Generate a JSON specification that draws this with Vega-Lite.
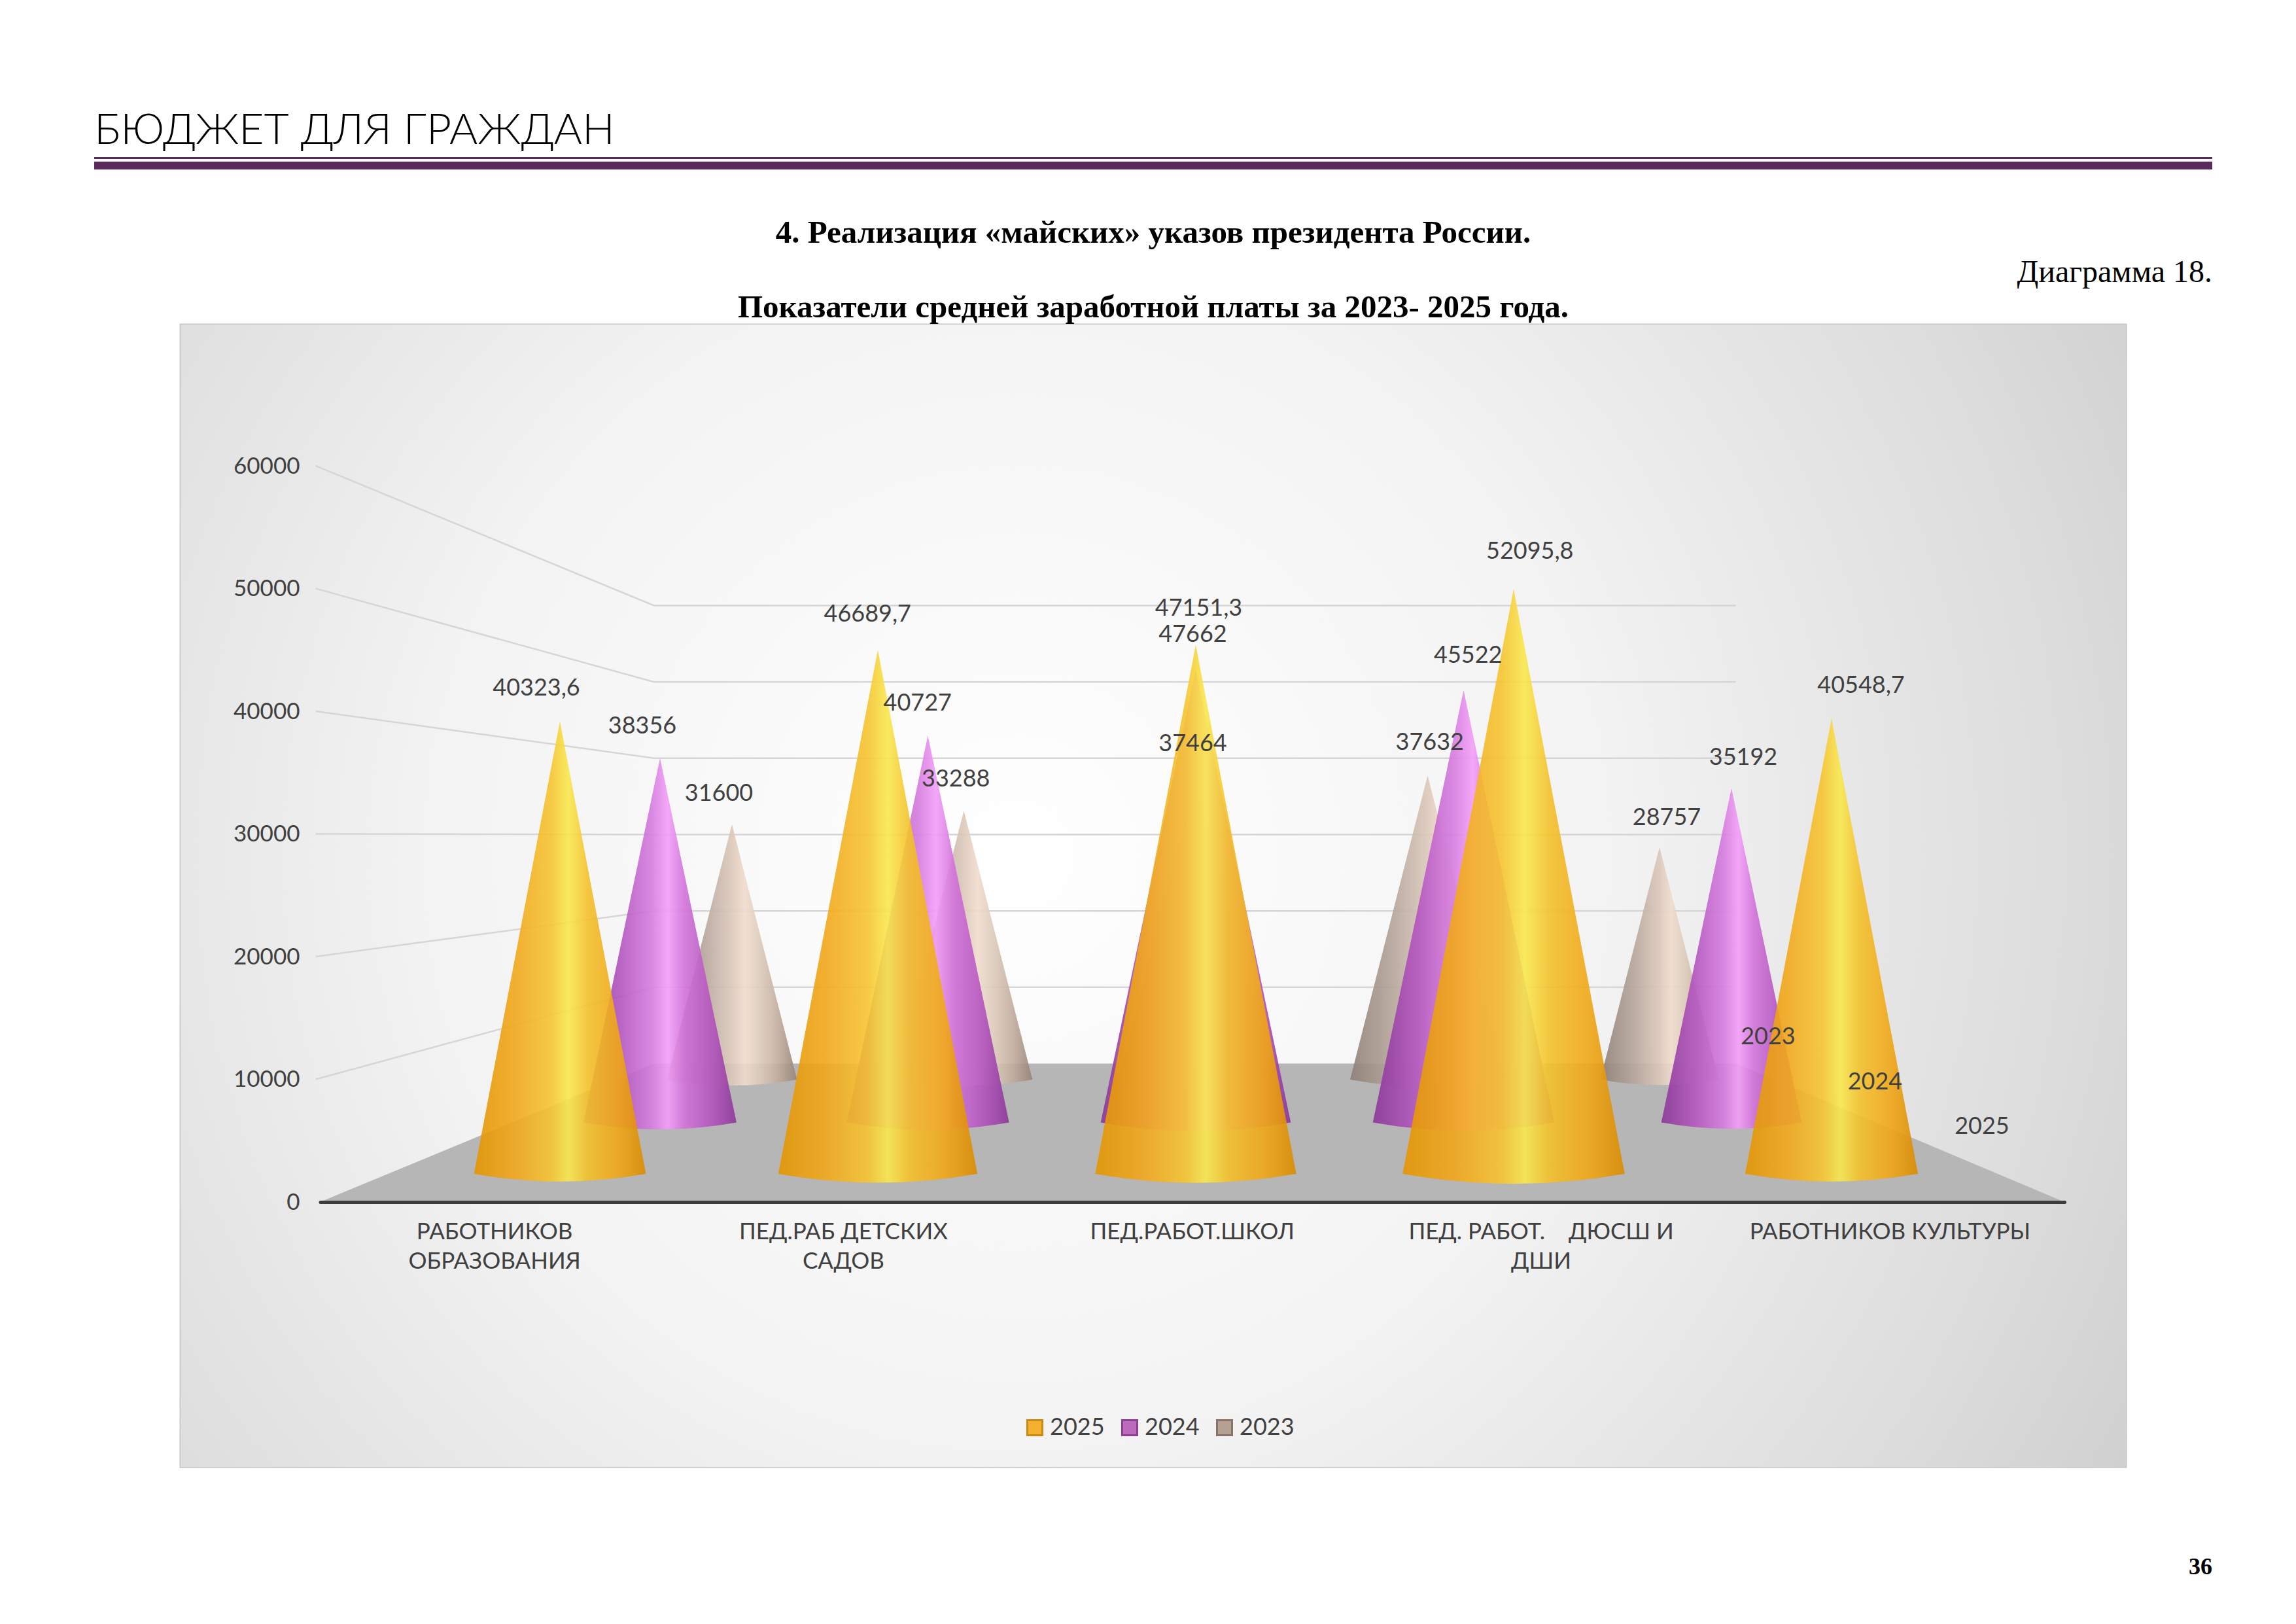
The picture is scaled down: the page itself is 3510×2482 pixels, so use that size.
{
  "$schema": "https://vega.github.io/schema/vega-lite/v6.json",
  "padding": {"left": 144, "top": 166, "right": 128, "bottom": 40},
  "background": "#ffffff",
  "config": {
    "view": {"stroke": null},
    "locale": {"number": {"decimal": ",", "thousands": " ", "grouping": [3], "currency": ["", ""]}},
    "title": {"font": "Liberation Serif", "fontSize": 49, "fontWeight": "bold", "color": "#000000", "baseline": "top"},
    "text": {"font": "Lato", "fontSize": 36, "color": "#404040"}
  },
  "data": {
    "values": [
      {"category": "РАБОТНИКОВ ОБРАЗОВАНИЯ", "year": "2025", "value": 40323.6},
      {"category": "РАБОТНИКОВ ОБРАЗОВАНИЯ", "year": "2024", "value": 38356},
      {"category": "РАБОТНИКОВ ОБРАЗОВАНИЯ", "year": "2023", "value": 31600},
      {"category": "ПЕД.РАБ ДЕТСКИХ САДОВ", "year": "2025", "value": 46689.7},
      {"category": "ПЕД.РАБ ДЕТСКИХ САДОВ", "year": "2024", "value": 40727},
      {"category": "ПЕД.РАБ ДЕТСКИХ САДОВ", "year": "2023", "value": 33288},
      {"category": "ПЕД.РАБОТ.ШКОЛ", "year": "2025", "value": 47151.3},
      {"category": "ПЕД.РАБОТ.ШКОЛ", "year": "2024", "value": 47662},
      {"category": "ПЕД.РАБОТ.ШКОЛ", "year": "2023", "value": 37464},
      {"category": "ПЕД. РАБОТ. ДЮСШ И ДШИ", "year": "2025", "value": 52095.8},
      {"category": "ПЕД. РАБОТ. ДЮСШ И ДШИ", "year": "2024", "value": 45522},
      {"category": "ПЕД. РАБОТ. ДЮСШ И ДШИ", "year": "2023", "value": 37632},
      {"category": "РАБОТНИКОВ КУЛЬТУРЫ", "year": "2025", "value": 40548.7},
      {"category": "РАБОТНИКОВ КУЛЬТУРЫ", "year": "2024", "value": 35192},
      {"category": "РАБОТНИКОВ КУЛЬТУРЫ", "year": "2023", "value": 28757}
    ]
  },
  "spacing": 4,
  "center": true,
  "bounds": "flush",
  "vconcat": [
    {
      "width": 3238, "height": 3,
      "view": {"fill": "#5b2b5c", "stroke": null},
      "title": {"text": "БЮДЖЕТ ДЛЯ ГРАЖДАН", "anchor": "start", "font": "Lato", "fontWeight": 300, "fontSize": 66, "offset": -10},
      "mark": {"type": "text", "text": ""},
      "encoding": {}
    },
    {
      "width": 3238, "height": 12,
      "view": {"fill": "#5a2a5a", "stroke": null},
      "title": {"text": "4. Реализация «майских» указов президента России.", "orient": "bottom", "offset": 61},
      "mark": {"type": "text", "text": ""},
      "encoding": {}
    },
    {
      "width": 3238, "height": 120,
      "view": {"stroke": null},
      "title": {"text": "Диаграмма 18.", "orient": "bottom", "anchor": "end", "fontWeight": "normal", "fontSize": 48, "offset": 10},
      "mark": {"type": "text", "text": ""},
      "encoding": {}
    },
    {
      "width": 3238, "height": 105,
      "view": {"stroke": null},
      "mark": {"type": "text", "text": ""},
      "encoding": {}
    },
    {
      "width": 2974, "height": 1746,
      "view": {"stroke": "#c6c6c6", "strokeWidth": 3},
      "title": {"text": "Показатели средней заработной платы за 2023- 2025 года.", "offset": 1},
      "layer": [
        {
          "transform": [{"aggregate": [{"op": "count", "as": "n"}]}],
          "mark": {
            "type": "rect",
            "fill": {
              "gradient": "radial", "x1": 0.43, "y1": 0.48, "r1": 0, "x2": 0.43, "y2": 0.48, "r2": 0.76,
              "stops": [
                {"offset": 0, "color": "#ffffff"},
                {"offset": 0.4, "color": "#f3f3f3"},
                {"offset": 0.72, "color": "#dcdcdc"},
                {"offset": 1, "color": "#c3c3c3"}
              ]
            }
          },
          "encoding": {}
        },
        {
          "transform": [{"aggregate": [{"op": "count", "as": "n"}]}],
          "encoding": {
            "x": {
              "datum": "ПЕД.РАБОТ.ШКОЛ", "type": "nominal",
              "scale": {"type": "band", "domain": ["РАБОТНИКОВ ОБРАЗОВАНИЯ", "ПЕД.РАБ ДЕТСКИХ САДОВ", "ПЕД.РАБОТ.ШКОЛ", "ПЕД. РАБОТ. ДЮСШ И ДШИ", "РАБОТНИКОВ КУЛЬТУРЫ"], "range": [213.5, 2880], "paddingInner": 0, "paddingOuter": 0},
              "axis": {
                "orient": "bottom", "offset": -405, "zindex": 1, "title": null, "ticks": false, "grid": false,
                "domain": true, "domainColor": "#3c3c3c", "domainWidth": 5, "domainCap": "round",
                "labelFont": "Lato", "labelFontSize": 35, "labelColor": "#404040", "labelPadding": 28,
                "labelBaseline": "top", "labelLineHeight": 45, "labelAngle": 0, "labelLimit": 0,
                "labelExpr": "{'РАБОТНИКОВ ОБРАЗОВАНИЯ': ['РАБОТНИКОВ', 'ОБРАЗОВАНИЯ'], 'ПЕД.РАБ ДЕТСКИХ САДОВ': ['ПЕД.РАБ ДЕТСКИХ', 'САДОВ'], 'ПЕД. РАБОТ. ДЮСШ И ДШИ': ['ПЕД. РАБОТ.\u00a0\u00a0\u00a0\u00a0ДЮСШ И', 'ДШИ']}[datum.label] || datum.label"
              }
            },
            "y": {
              "datum": 0, "type": "quantitative",
              "scale": {"domain": [0, 60000], "range": [1341, 216]},
              "axis": {
                "orient": "left", "offset": -190, "zindex": 1, "title": null, "ticks": false, "domain": false, "grid": false,
                "values": [0, 10000, 20000, 30000, 40000, 50000, 60000], "format": "d",
                "labelFont": "Lato", "labelFontSize": 35, "labelColor": "#404040", "labelPadding": 8
              }
            }
          },
          "layer": [
            {
              "mark": {
                "type": "point", "size": 4, "filled": false, "opacity": 1, "stroke": "#d6d6d6", "strokeWidth": 2.5,
                "shape": "M-1340,-187.5L-823,-328.2L831,-328.2M-1340,-375L-823,-444.8L831,-444.8M-1340,-562.5L-823,-561.5L831,-561.5M-1340,-750L-823,-678.2L831,-678.2M-1340,-937.5L-823,-794.8L831,-794.8M-1340,-1125L-823,-911.5L831,-911.5"
              }
            },
            {
              "mark": {
                "type": "point", "size": 4, "filled": true, "opacity": 1, "fill": "#b6b6b6", "strokeWidth": 0,
                "shape": "M-1333.25,0L1333.25,0L831.25,-211.5L-822.75,-211.5Z"
              }
            }
          ]
        },
        {
          "transform": [{"filter": {"field": "year", "equal": "2023"}}],
          "mark": {
            "type": "point", "filled": true, "opacity": 1, "fillOpacity": 0.9, "strokeWidth": 0,
            "shape": "M0,-1L-0.255,0Q0,0.046,0.255,0Z",
            "fill": {
              "gradient": "linear", "x1": 0, "y1": 0, "x2": 1, "y2": 0,
              "stops": [
                {"offset": 0, "color": "#8e7e76"},
                {"offset": 0.3, "color": "#b9a89d"},
                {"offset": 0.5, "color": "#dcc8ba"},
                {"offset": 0.6, "color": "#efdccd"},
                {"offset": 0.72, "color": "#dccab9"},
                {"offset": 0.87, "color": "#bfa99a"},
                {"offset": 1, "color": "#958277"}
              ]
            }
          },
          "encoding": {
            "x": {"field": "category", "type": "nominal", "scale": {"type": "point", "domain": ["РАБОТНИКОВ ОБРАЗОВАНИЯ", "ПЕД.РАБ ДЕТСКИХ САДОВ", "ПЕД.РАБОТ.ШКОЛ", "ПЕД. РАБОТ. ДЮСШ И ДШИ", "РАБОТНИКОВ КУЛЬТУРЫ"], "range": [843, 2261], "padding": 0}, "axis": null},
            "y": {"datum": 0, "type": "quantitative", "scale": {"domain": [0, 60000], "range": [1154, 413]}, "axis": null},
            "size": {"field": "value", "type": "quantitative", "scale": {"type": "pow", "exponent": 2, "domain": [0, 60000], "range": [0, 2196324]}, "legend": null}
          }
        },
        {
          "transform": [{"filter": {"field": "year", "equal": "2024"}}],
          "mark": {
            "type": "point", "filled": true, "opacity": 1, "fillOpacity": 0.9, "strokeWidth": 0,
            "shape": "M0,-1L-0.21,0Q0,0.038,0.21,0Z",
            "fill": {
              "gradient": "linear", "x1": 0, "y1": 0, "x2": 1, "y2": 0,
              "stops": [
                {"offset": 0, "color": "#8a3696"},
                {"offset": 0.25, "color": "#b557c1"},
                {"offset": 0.45, "color": "#d77ee0"},
                {"offset": 0.55, "color": "#f39ef8"},
                {"offset": 0.66, "color": "#d272da"},
                {"offset": 0.85, "color": "#b052bb"},
                {"offset": 1, "color": "#8a3696"}
              ]
            }
          },
          "encoding": {
            "x": {"field": "category", "type": "nominal", "scale": {"type": "point", "domain": ["РАБОТНИКОВ ОБРАЗОВАНИЯ", "ПЕД.РАБ ДЕТСКИХ САДОВ", "ПЕД.РАБОТ.ШКОЛ", "ПЕД. РАБОТ. ДЮСШ И ДШИ", "РАБОТНИКОВ КУЛЬТУРЫ"], "range": [733, 2371], "padding": 0}, "axis": null},
            "y": {"datum": 0, "type": "quantitative", "scale": {"domain": [0, 60000], "range": [1219.5, 348.5]}, "axis": null},
            "size": {"field": "value", "type": "quantitative", "scale": {"type": "pow", "exponent": 2, "domain": [0, 60000], "range": [0, 3034564]}, "legend": null}
          }
        },
        {
          "transform": [{"filter": {"field": "year", "equal": "2025"}}],
          "mark": {
            "type": "point", "filled": true, "opacity": 1, "fillOpacity": 0.9, "strokeWidth": 0,
            "shape": "M0,-1L-0.19,0Q0,0.034,0.19,0Z",
            "fill": {
              "gradient": "linear", "x1": 0, "y1": 0, "x2": 1, "y2": 0,
              "stops": [
                {"offset": 0, "color": "#e39500"},
                {"offset": 0.25, "color": "#f2a91e"},
                {"offset": 0.45, "color": "#f6c531"},
                {"offset": 0.55, "color": "#f8e84e"},
                {"offset": 0.66, "color": "#f4c12c"},
                {"offset": 0.85, "color": "#efa516"},
                {"offset": 1, "color": "#d98b00"}
              ]
            }
          },
          "encoding": {
            "x": {"field": "category", "type": "nominal", "scale": {"type": "point", "domain": ["РАБОТНИКОВ ОБРАЗОВАНИЯ", "ПЕД.РАБ ДЕТСКИХ САДОВ", "ПЕД.РАБОТ.ШКОЛ", "ПЕД. РАБОТ. ДЮСШ И ДШИ", "РАБОТНИКОВ КУЛЬТУРЫ"], "range": [580, 2524], "padding": 0}, "axis": null},
            "y": {"datum": 0, "type": "quantitative", "scale": {"domain": [0, 60000], "range": [1298, 269]}, "axis": null},
            "size": {"field": "value", "type": "quantitative", "scale": {"type": "pow", "exponent": 2, "domain": [0, 60000], "range": [0, 4235364]}, "legend": null}
          }
        },
        {
          "transform": [{"filter": {"field": "year", "equal": "2023"}}],
          "mark": {"type": "text", "align": "center", "baseline": "middle"},
          "encoding": {
            "x": {"field": "category", "type": "nominal", "scale": {"type": "point", "domain": ["РАБОТНИКОВ ОБРАЗОВАНИЯ", "ПЕД.РАБ ДЕТСКИХ САДОВ", "ПЕД.РАБОТ.ШКОЛ", "ПЕД. РАБОТ. ДЮСШ И ДШИ", "РАБОТНИКОВ КУЛЬТУРЫ"], "range": [823, 2272], "padding": 0}, "axis": null},
            "y": {"field": "value", "type": "quantitative", "scale": {"domain": [0, 60000], "range": [1125.9, 349.6]}, "axis": null},
            "text": {"field": "value", "type": "quantitative", "format": ".1~f"}
          }
        },
        {
          "transform": [{"filter": {"field": "year", "equal": "2024"}}],
          "mark": {"type": "text", "align": "center", "baseline": "middle"},
          "encoding": {
            "x": {"field": "category", "type": "nominal", "scale": {"type": "point", "domain": ["РАБОТНИКОВ ОБРАЗОВАНИЯ", "ПЕД.РАБ ДЕТСКИХ САДОВ", "ПЕД.РАБОТ.ШКОЛ", "ПЕД. РАБОТ. ДЮСШ И ДШИ", "РАБОТНИКОВ КУЛЬТУРЫ"], "range": [706, 2389], "padding": 0}, "axis": null},
            "y": {"field": "value", "type": "quantitative", "scale": {"domain": [0, 60000], "range": [1192.5, 288]}, "axis": null},
            "text": {"field": "value", "type": "quantitative", "format": ".1~f"}
          }
        },
        {
          "transform": [{"filter": {"field": "year", "equal": "2025"}}],
          "mark": {"type": "text", "align": "center", "baseline": "middle"},
          "encoding": {
            "x": {"field": "category", "type": "nominal", "scale": {"type": "point", "domain": ["РАБОТНИКОВ ОБРАЗОВАНИЯ", "ПЕД.РАБ ДЕТСКИХ САДОВ", "ПЕД.РАБОТ.ШКОЛ", "ПЕД. РАБОТ. ДЮСШ И ДШИ", "РАБОТНИКОВ КУЛЬТУРЫ"], "range": [544, 2569], "padding": 0}, "axis": null},
            "y": {"field": "value", "type": "quantitative", "scale": {"domain": [0, 60000], "range": [1272.6, 206.1]}, "axis": null},
            "text": {"field": "value", "type": "quantitative", "format": ".1~f"}
          }
        },
        {
          "transform": [{"filter": {"field": "category", "equal": "РАБОТНИКОВ КУЛЬТУРЫ"}}],
          "mark": {"type": "text", "align": "center", "baseline": "middle"},
          "encoding": {
            "x": {"field": "year", "type": "ordinal", "scale": {"type": "point", "domain": ["2023", "2024", "2025"], "range": [2427, 2754], "padding": 0}, "axis": null},
            "y": {"field": "year", "type": "ordinal", "scale": {"type": "point", "domain": ["2023", "2024", "2025"], "range": [1089, 1226], "padding": 0}, "axis": null},
            "text": {"field": "year", "type": "nominal"}
          }
        },
        {
          "mark": {"type": "square", "opacity": 0},
          "encoding": {
            "fill": {
              "field": "year", "type": "nominal",
              "scale": {"domain": ["2025", "2024", "2023"], "range": ["#f4b12f", "#bd6bbd", "#b5a194"]},
              "legend": {
                "title": null, "orient": "none", "legendX": 1420, "legendY": 1924, "direction": "horizontal",
                "symbolType": "square", "symbolSize": 529, "symbolStrokeWidth": 3, "symbolOpacity": 1,
                "labelFont": "Lato", "labelFontSize": 36, "labelColor": "#404040", "labelOffset": 5, "columnPadding": 20,
                "encode": {"symbols": {"update": {"opacity": {"value": 1}}}}
              }
            },
            "stroke": {
              "field": "year", "type": "nominal",
              "scale": {"domain": ["2025", "2024", "2023"], "range": ["#c98a10", "#8d3f90", "#8a7466"]},
              "legend": {
                "title": null, "orient": "none", "legendX": 1420, "legendY": 1924, "direction": "horizontal",
                "symbolType": "square", "symbolSize": 529, "symbolStrokeWidth": 3, "symbolOpacity": 1,
                "labelFont": "Lato", "labelFontSize": 36, "labelColor": "#404040", "labelOffset": 5, "columnPadding": 20,
                "encode": {"symbols": {"update": {"opacity": {"value": 1}}}}
              }
            }
          }
        }
      ],
      "resolve": {
        "scale": {"x": "independent", "y": "independent", "size": "independent"},
        "axis": {"x": "independent", "y": "independent"}
      }
    },
    {
      "width": 3238, "height": 120,
      "view": {"stroke": null},
      "title": {"text": "36", "orient": "bottom", "anchor": "end", "fontSize": 36, "offset": 12},
      "mark": {"type": "text", "text": ""},
      "encoding": {}
    }
  ]
}
